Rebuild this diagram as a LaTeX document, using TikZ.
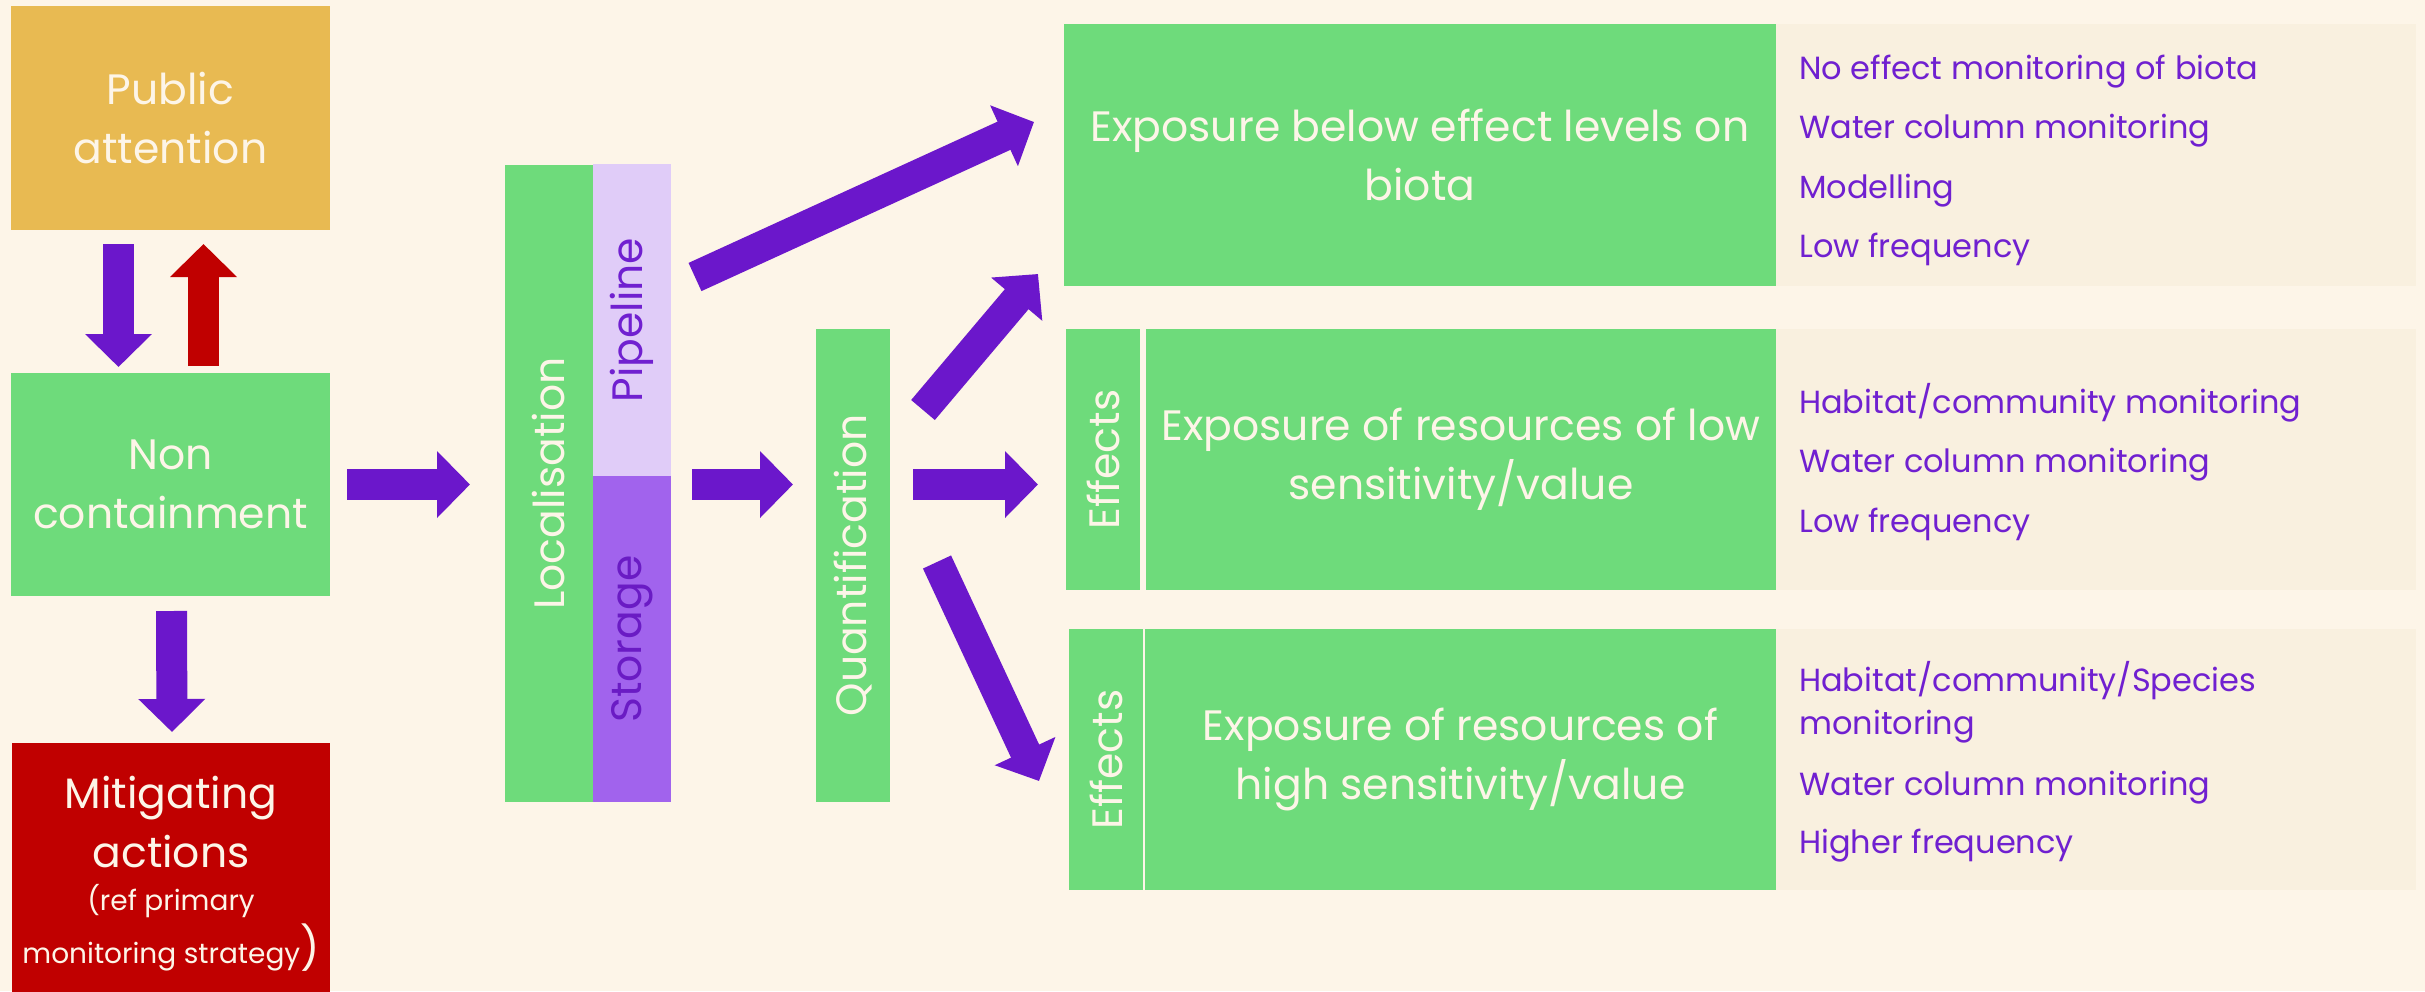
\documentclass[tikz,border=0pt]{standalone}
\usepackage{fontspec}
\setmainfont{Poppins}
\usepackage{graphicx}
\usepackage{tikz}
\usetikzlibrary{arrows.meta,positioning,calc}

\definecolor{pagebg}{RGB}{253,245,232}
\definecolor{panebg}{RGB}{249,240,223}
\definecolor{boxgreen}{RGB}{110,219,123}
\definecolor{boxorange}{RGB}{232,186,82}
\definecolor{boxred}{RGB}{192,0,0}
\definecolor{arrowpurple}{RGB}{107,23,203}
\definecolor{textpurple}{RGB}{112,32,208}
\definecolor{pipelilac}{RGB}{224,204,248}
\definecolor{storelilac}{RGB}{161,99,237}
\definecolor{storetext}{RGB}{106,27,196}
\definecolor{cream}{RGB}{253,245,232}

\newcommand{\bigtext}{\fontsize{42.5}{59}\selectfont}
\newcommand{\panetext}{\fontsize{32}{43}\selectfont}
\newcommand{\smalltext}{\fontsize{28}{41}\selectfont}

\tikzset{
  colbox/.style={fill=#1, draw=none, inner sep=0pt, outer sep=0pt,
                 font=\bigtext, text=cream, align=center},
  pane/.style={fill=panebg, draw=none, inner sep=0pt, outer sep=0pt},
  panetxt/.style={font=\panetext, text=textpurple, inner sep=0pt,
                  anchor=base west, align=left},
  blockarr/.style={draw=arrowpurple, line width=31pt,
                   -{Triangle[length=33pt, width=65pt]}},
  redarr/.style={blockarr, draw=boxred}
}

\begin{document}
\begin{tikzpicture}[x=1pt, y=-1pt]
  \clip (0,0) rectangle (2425,991);
  \fill[pagebg] (0,0) rectangle (2425,991);

  % left column
  \node[colbox=boxorange, minimum width=319pt, minimum height=224pt] (pub) at (170.5,118) {Public\\attention};
  \node[colbox=boxgreen, minimum width=319pt, minimum height=223pt] (non) at (170.5,484.5) {Non\\containment};
  \node[colbox=boxred, minimum width=318pt, minimum height=262pt] (mit) at (171,874)
    {Mitigating\\actions\\[-16pt]{\smalltext (ref primary}\\[-6pt]{\smalltext monitoring strategy})};

  % localisation and quantification
  \node[colbox=boxgreen, minimum width=88pt, minimum height=637pt] (loc) at (549,483.5) {\rotatebox{90}{Localisation}};
  \node[colbox=pipelilac, text=textpurple, minimum width=78pt, minimum height=312pt] (pip) at (632,320) {\rotatebox{90}{Pipeline}};
  \node[colbox=storelilac, text=storetext, minimum width=78pt, minimum height=326pt] (sto) at (632,639) {\rotatebox{90}{Storage}};
  \node[colbox=boxgreen, minimum width=74pt, minimum height=473pt] (qua) at (853,565.5) {\rotatebox{90}{Quantification}};

  % exposure boxes
  \node[colbox=boxgreen, minimum width=712pt, minimum height=262pt] (ex1) at (1420,155) {Exposure below effect levels on\\biota};
  \node[pane, minimum width=640pt, minimum height=262pt, right=0pt of ex1] (pn1) {};
  \node[colbox=boxgreen, minimum width=74pt, minimum height=261pt] (ef2) at (1103,459.5) {\rotatebox{90}{Effects}};
  \node[colbox=boxgreen, minimum width=630pt, minimum height=261pt] (ex2) at (1461,459.5) {Exposure of resources of low\\sensitivity/value};
  \node[pane, minimum width=640pt, minimum height=261pt, right=0pt of ex2] (pn2) {};
  \node[colbox=boxgreen, minimum width=74pt, minimum height=261pt] (ef3) at (1106,759.5) {\rotatebox{90}{Effects}};
  \node[colbox=boxgreen, minimum width=631pt, minimum height=261pt] (ex3) at (1460.5,759.5) {Exposure of resources of\\high sensitivity/value};
  \node[pane, minimum width=640pt, minimum height=261pt, right=0pt of ex3] (pn3) {};

  % monitoring lists
  \node[panetxt] (m11) at (1799,79) {No effect monitoring of biota};
  \node[panetxt] (m12) at (1799,138.5) {Water column monitoring};
  \node[panetxt] (m13) at (1799,198) {Modelling};
  \node[panetxt] (m14) at (1799,257.5) {Low frequency};
  \node[panetxt] (m21) at (1799,413) {Habitat/community monitoring};
  \node[panetxt] (m22) at (1799,472.5) {Water column monitoring};
  \node[panetxt] (m23) at (1799,532) {Low frequency};
  \node[panetxt] (m31) at (1799,734) {Habitat/community/Species\\monitoring};
  \node[panetxt] (m32) at (1799,795) {Water column monitoring};
  \node[panetxt] (m33) at (1799,853) {Higher frequency};

  \node[font=\bigtext, text=textpurple, inner sep=0pt, anchor=base west] (foot) at (550,1025)
    {Benign leakage and low risk -- Exposure of resources and habitats of high value};

  % arrows
  \draw[blockarr] ($(pub.south)+(-52,14)$) -- ($(non.north)+(-52,-6)$);
  \draw[redarr] ($(non.north)+(33,-7)$) -- ($(pub.south)+(33,14)$);
  \draw[blockarr] ($(non.south)+(1,15)$) -- ($(mit.north)+(1,-11)$);
  \draw[blockarr, shorten <=17pt, shorten >=35pt] (non.east) -- (loc.west |- non.east);
  \draw[blockarr, shorten <=21pt, shorten >=23pt] (pip.south east |- non.east) -- (qua.west |- non.east);
  \draw[blockarr, shorten <=23pt, shorten >=28pt] (qua.east |- non.east) -- (ef2.west |- non.east);
  \draw[blockarr] ($(pip.east)+(24,-43)$) -- ($(ex1.west)+(-30,-33)$);
  \draw[blockarr] ($(qua.north east)+(33,81)$) -- ($(ex1.south west)+(-26,-12)$);
  \draw[blockarr] ($(qua.east)+(47,-3.5)$) -- ($(ef3.west)+(-30,21.5)$);
\end{tikzpicture}
\end{document}
